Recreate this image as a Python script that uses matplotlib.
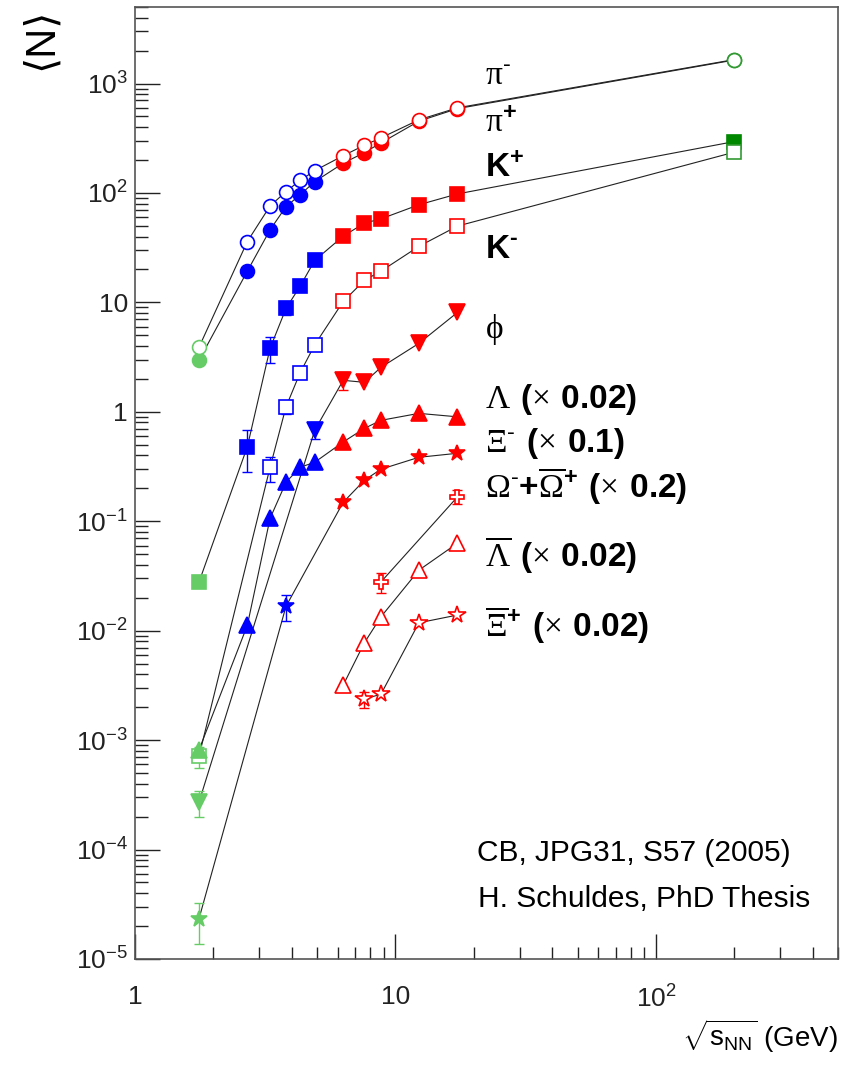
import math
import matplotlib
matplotlib.use('Agg')
import matplotlib.pyplot as plt
from matplotlib.ticker import LogLocator, FuncFormatter, NullFormatter

plt.rcParams['font.family'] = ['Liberation Sans', 'DejaVu Sans']
plt.rcParams['mathtext.fontset'] = 'custom'
plt.rcParams['mathtext.rm'] = 'Liberation Serif'
plt.rcParams['mathtext.bf'] = 'Liberation Sans:bold'
plt.rcParams['mathtext.sf'] = 'Liberation Sans'
plt.rcParams['mathtext.default'] = 'regular'

# energias sqrt(s_NN) en GeV
pim_e = [1.76, 2.7, 3.3, 3.8, 4.3, 4.9, 6.3, 7.6, 8.8, 12.3, 17.3, 200]
pim_n = [3.88, 36, 76, 103, 130, 160, 219, 273, 319, 466, 600, 1656]

pip_e = [1.76, 2.7, 3.3, 3.8, 4.3, 4.9, 6.3, 7.6, 8.8, 12.3, 17.3, 200]
pip_n = [2.95, 19.3, 46, 75, 96, 127, 187, 234, 287, 453, 590, 1640]

kp_e = [1.76, 2.7, 3.3, 3.8, 4.3, 4.9, 6.3, 7.6, 8.8, 12.3, 17.3, 200]
kp_n = [0.0277, 0.48, 3.8, 8.8, 14, 24.2, 40.3, 53, 58, 78, 98, 295]
kp_err = [0, 0.2, 1.0, 1.2, 0, 0, 0, 0, 0, 0, 0, 0]

km_e = [1.76, 3.3, 3.8, 4.3, 4.9, 6.3, 7.6, 8.8, 12.3, 17.3, 200]
km_n = [7.1e-4, 0.31, 1.11, 2.26, 4.1, 10.2, 15.9, 19.3, 32.5, 49.8, 236]
km_err = [1.5e-4, 0.08, 0.15, 0, 0, 0, 0, 0, 0, 0, 0]

phi_e = [1.76, 4.9, 6.3, 7.6, 8.8, 12.3, 17.3]
phi_n = [2.7e-4, 0.68, 1.94, 1.86, 2.55, 4.22, 8.1]
phi_err = [0.7e-4, 0.12, 0.35, 0, 0, 0, 0]

lam_e = [1.76, 2.7, 3.3, 3.8, 4.3, 4.9, 6.3, 7.6, 8.8, 12.3, 17.3]
lam_n = [8.1e-4, 0.0112, 0.106, 0.227, 0.311, 0.346, 0.53, 0.706, 0.836, 0.968, 0.90]

xi_e = [1.76, 3.8, 6.3, 7.6, 8.8, 12.3, 17.3]
xi_n = [2.32e-5, 0.0167, 0.149, 0.237, 0.299, 0.384, 0.418]
xi_err = [0.95e-5, 0.0045, 0, 0, 0, 0, 0]

om_e = [8.8, 17.3]
om_n = [0.0279, 0.167]
om_err = [0.006, 0.024]

alam_e = [6.3, 7.6, 8.8, 12.3, 17.3]
alam_n = [3.18e-3, 7.76e-3, 0.0134, 0.0357, 0.063]

axi_e = [7.6, 8.8, 12.3, 17.3]
axi_n = [2.37e-3, 2.63e-3, 0.0118, 0.0139]
axi_err = [0.4e-3, 0, 0, 0]

labels = [
    (r'$\mathrm{π}^{‐}$', 0.918),
    (r'$\mathrm{π}^{\mathbf{+}}$', 0.869),
    (r'$\mathbf{K^{+}}$', 0.821),
    (r'$\mathbf{K^{‐}}$', 0.736),
    (r'$\mathrm{\phi}$', 0.652),
    (r'$\mathrm{Λ}\ \mathbf{(}\mathrm{×}\ \mathbf{0.02)}$', 0.579),
    (r'$\mathrm{Ξ}^{‐}\ \mathbf{(}\mathrm{×}\ \mathbf{0.1)}$', 0.533),
    (r'$\mathrm{Ω}^{‐}\mathbf{+}\overline{\mathrm{Ω}}^{\mathbf{+}}\ \mathbf{(}\mathrm{×}\ \mathbf{0.2)}$', 0.484),
    (r'$\overline{\mathrm{Λ}}\ \mathbf{(}\mathrm{×}\ \mathbf{0.02)}$', 0.412),
    (r'$\overline{\mathrm{Ξ}}^{\mathbf{+}}\ \mathbf{(}\mathrm{×}\ \mathbf{0.02)}$', 0.338),
]


def point_color(e, hollow):
    '''Color de cada punto segun el acelerador'''
    if e < 2:
        return '#66cc66'
    if e < 5:
        return '#0000ff'
    if e < 20:
        return '#ff0000'
    return '#339933' if hollow else '#008800'


def draw(ax, e, n, marker, hollow, err=None, ms=9.5):
    ax.plot(e, n, '-', color='#222222', lw=0.8, zorder=2)
    for i in range(len(e)):
        c = point_color(e[i], hollow)
        if err is not None and err[i] > 0:
            ax.errorbar([e[i]], [n[i]], yerr=[[err[i]], [err[i]]], fmt='none',
                        ecolor=c, elinewidth=1, capsize=3.5, capthick=1, zorder=3)
        ax.plot([e[i]], [n[i]], marker=marker, ms=ms, ls='none',
                mfc='white' if hollow else c, mec=c, mew=1.2, zorder=4)


fig = plt.figure(figsize=(8.5, 10.68), dpi=100)
ax = fig.add_axes([0.1588, 0.1021, 0.8271, 0.8913])

draw(ax, pip_e, pip_n, 'o', False, ms=10)
draw(ax, pim_e, pim_n, 'o', True, ms=10)
draw(ax, kp_e, kp_n, 's', False, kp_err, ms=9.5)
draw(ax, km_e, km_n, 's', True, km_err, ms=9.5)
draw(ax, phi_e, phi_n, 'v', False, phi_err, ms=11)
draw(ax, lam_e, lam_n, '^', False, ms=11)
draw(ax, xi_e, xi_n, '*', False, xi_err, ms=12)
draw(ax, om_e, om_n, 'P', True, om_err, ms=10)
draw(ax, alam_e, alam_n, '^', True, ms=11)
draw(ax, axi_e, axi_n, '*', True, axi_err, ms=13)

ax.set_xscale('log')
ax.set_yscale('log')
ax.set_xlim(1, 500)
ax.set_ylim(1e-5, 5000)


def fmt(v, pos):
    p = int(round(math.log10(v)))
    if p == 0:
        return '1'
    if p == 1:
        return '10'
    return r'$10^{%d}$' % p


ax.xaxis.set_major_locator(LogLocator(base=10, numticks=10))
ax.xaxis.set_minor_locator(LogLocator(base=10, subs=range(2, 10), numticks=20))
ax.yaxis.set_major_locator(LogLocator(base=10, numticks=20))
ax.yaxis.set_minor_locator(LogLocator(base=10, subs=range(2, 10), numticks=40))
ax.xaxis.set_major_formatter(FuncFormatter(fmt))
ax.yaxis.set_major_formatter(FuncFormatter(fmt))
ax.xaxis.set_minor_formatter(NullFormatter())
ax.yaxis.set_minor_formatter(NullFormatter())

ax.tick_params(which='both', direction='in', top=False, right=False, colors='#222222')
ax.tick_params(which='major', length=18, width=1, labelsize=19)
ax.tick_params(axis='x', which='major', pad=19)
ax.tick_params(axis='y', which='major', pad=5)
ax.tick_params(which='minor', length=9, width=1)
for s in ax.spines.values():
    s.set_color('#555555')
    s.set_linewidth(1.2)

ax.set_ylabel('⟨N⟩', loc='top', fontsize=30)
ax.yaxis.set_label_coords(-0.106, 1.0)
ax.set_xlabel(r'$\sqrt{s_{NN}}$ (GeV)', loc='right', fontsize=20)
ax.xaxis.set_label_coords(1.0, -0.062)

for txt, yf in labels:
    ax.text(0.498, yf, txt, transform=ax.transAxes, fontsize=24, va='baseline')

ax.text(0.932, 0.103, 'CB, JPG31, S57 (2005)', transform=ax.transAxes,
        fontsize=21.5, ha='right', va='baseline')
ax.text(0.960, 0.055, 'H. Schuldes, PhD Thesis', transform=ax.transAxes,
        fontsize=21.5, ha='right', va='baseline')

fig.savefig('out.png', dpi=100)
